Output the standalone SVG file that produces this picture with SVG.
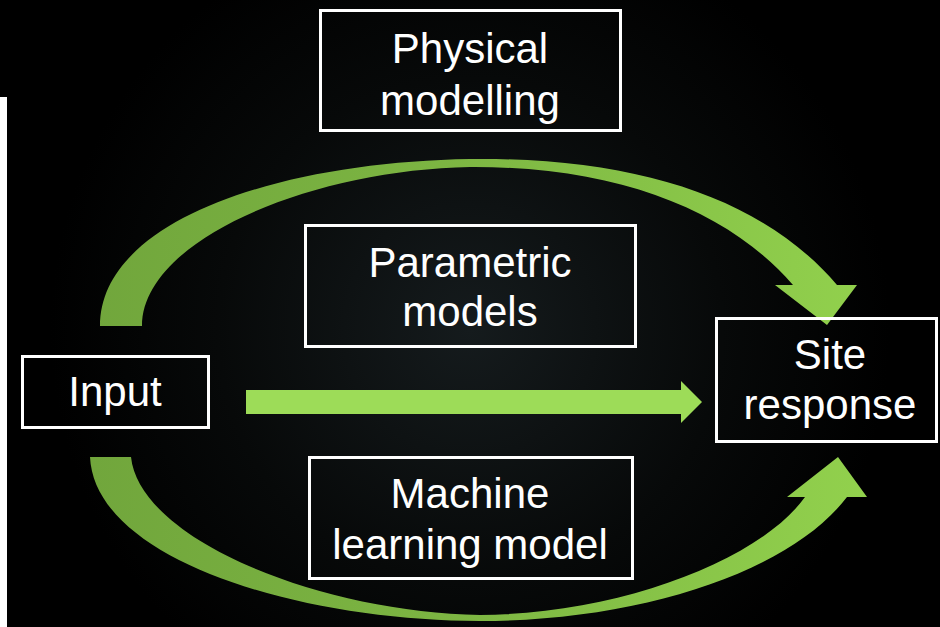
<svg xmlns="http://www.w3.org/2000/svg" width="940" height="627" viewBox="0 0 940 627">
  <defs>
    <radialGradient id="bg" cx="470" cy="330" r="420" gradientUnits="userSpaceOnUse">
      <stop offset="0" stop-color="#151b1d"/>
      <stop offset="0.6" stop-color="#070909"/>
      <stop offset="1" stop-color="#000000"/>
    </radialGradient>
    <linearGradient id="arcGrad" x1="90" y1="0" x2="870" y2="0" gradientUnits="userSpaceOnUse">
      <stop offset="0" stop-color="#71a63c"/>
      <stop offset="0.45" stop-color="#7cb542"/>
      <stop offset="1" stop-color="#92d14d"/>
    </linearGradient>
    <style>
      .box { fill: none; stroke: #ffffff; stroke-width: 3; }
      .lbl { font-family: "Liberation Sans", Arial, sans-serif; font-size: 42px; fill: #ffffff; text-anchor: middle; }
      .arc { fill: url(#arcGrad); }
      .straight { fill: #9ddc58; }
    </style>
  </defs>

  <rect x="0" y="0" width="940" height="627" fill="url(#bg)"/>
  <rect x="0" y="97" width="7" height="530" fill="#ffffff"/>

  <g id="connectors">
    <path class="arc" d="M100,326 C100,220 280,162 470,159 C640,157 765,200 837,285 L857,285 L827,325 L775,285 L793,285 C730,212 620,166 470,167 C310,170 142,240 142,326 Z"/>
    <path class="straight" d="M246,390 L681,390 L681,381 L702,402 L681,423 L681,414 L246,414 Z"/>
    <path class="arc" d="M90,457 C95,560 300,621 480,621 C640,621 790,572 847,497 L867,497 L838,457 L787,497 L805,497 C760,560 620,614 480,615 C320,612 140,540 131,457 Z"/>
  </g>

  <g id="physical">
    <rect class="box" x="320.5" y="10.5" width="300" height="120"/>
    <text class="lbl" x="470" y="63">Physical</text>
    <text class="lbl" x="470" y="115">modelling</text>
  </g>

  <g id="parametric">
    <rect class="box" x="305.5" y="225.5" width="330" height="121"/>
    <text class="lbl" x="470" y="277">Parametric</text>
    <text class="lbl" x="470" y="326">models</text>
  </g>

  <g id="machine">
    <rect class="box" x="309.5" y="457.5" width="323" height="121"/>
    <text class="lbl" x="470" y="508">Machine</text>
    <text class="lbl" x="470" y="559">learning model</text>
  </g>

  <g id="input">
    <rect class="box" x="22.5" y="356.5" width="186" height="71"/>
    <text class="lbl" x="115" y="406">Input</text>
  </g>

  <g id="site">
    <rect class="box" x="716.5" y="318.5" width="220" height="123"/>
    <text class="lbl" x="830" y="369">Site</text>
    <text class="lbl" x="830" y="419">response</text>
  </g>
</svg>
